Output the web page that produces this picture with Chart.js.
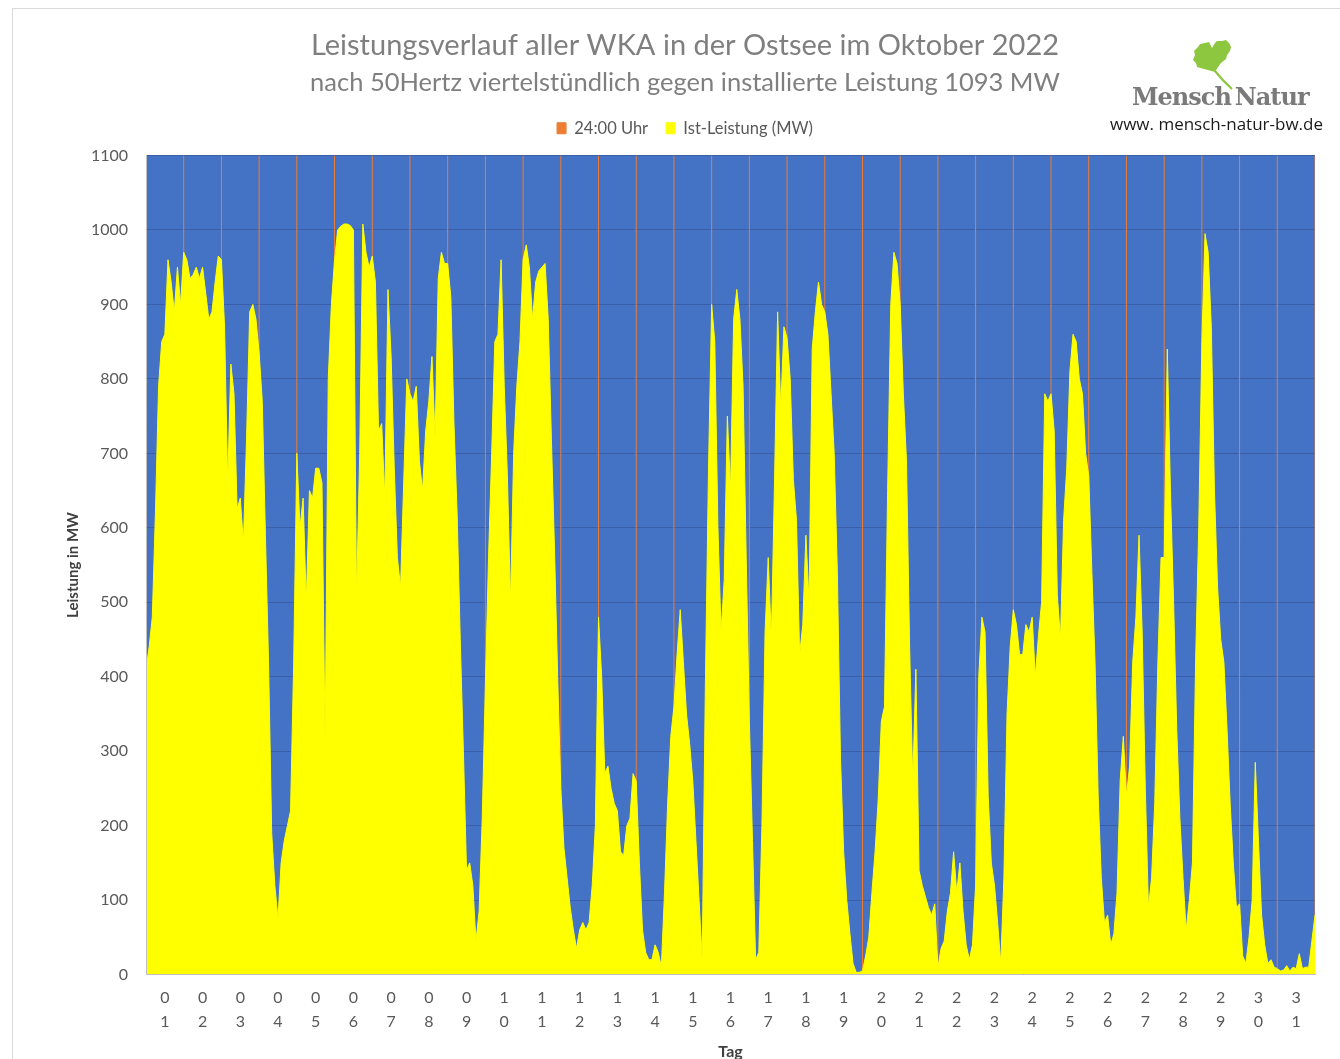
<!DOCTYPE html>
<html lang="de">
<head>
<meta charset="utf-8">
<title>Leistungsverlauf aller WKA in der Ostsee im Oktober 2022</title>
<script src="https://cdn.jsdelivr.net/npm/chart.js@4.4.0/dist/chart.umd.min.js"></script>
<style>
    html, body { margin: 0; padding: 0; background: #fff; }
    #rahmen { position: absolute; left: 12px; top: 8px; width: 1340px; height: 1060px;
              border-left: 1px solid #d9d9d9; border-top: 1px solid #d9d9d9; }
    #diagramm { position: absolute; left: 0; top: 0; }
    #blatt { position: absolute; left: 1190px; top: 36px; }
    #marke { position: absolute; left: 1132px; top: 83px; font-family: "DejaVu Serif", serif;
             font-size: 24px; font-weight: bold; letter-spacing: -1px; line-height: 27px;
             color: #7a7a7a; white-space: nowrap; }
    #marke span { margin-left: 4px; }
    #web { position: absolute; left: 1110px; top: 114px; font-family: "Open Sans", sans-serif;
           font-size: 17px; line-height: 20px; color: #1a1a1a; white-space: nowrap; }
</style>
</head>
<body>
<div id="rahmen"></div>
<canvas id="diagramm" width="1340" height="1059"></canvas>
<svg id="blatt" width="60" height="64" viewBox="0 0 60 64">
    <path d="M42 53 Q32 44 25 35" stroke="#8dc63f" stroke-width="2.2" fill="none"/>
    <path d="M25 36 L7 31 L6 27 L3 24 L5 19 L4 15 L8 11 L10 8 L15 7 L19 6 L22 12
             L25 7 L27 5 L32 5 L36 4 L39 7 L41 11 L40 15 L37 19 L36 23 L31 27 L28 31 Z" fill="#8dc63f"/>
</svg>
<div id="marke">Mensch<span>Natur</span></div>
<div id="web">www. mensch-natur-bw.de</div>
<script>
// Tage im Oktober 2022
const tage = ['01', '02', '03', '04', '05', '06', '07', '08', '09', '10', '11', '12', '13', '14', '15', '16',
              '17', '18', '19', '20', '21', '22', '23', '24', '25', '26', '27', '28', '29', '30', '31'];

const leistung = [
    410, 440, 480, 620, 790, 850, 860, 960, 930, 890, 950, 900,      // 01
    970, 960, 935, 940, 950, 935, 950, 915, 880, 890, 930, 965,      // 02
    960, 870, 660, 820, 780, 625, 640, 580, 720, 890, 900, 880,      // 03
    835, 770, 590, 420, 190, 120, 75, 150, 180, 200, 220, 420,       // 04
    700, 600, 640, 500, 650, 640, 680, 680, 660, 310, 800, 900,      // 05
    960, 1000, 1005, 1008, 1008, 1006, 1000, 505, 700, 1008, 970, 950, // 06
    965, 930, 730, 740, 640, 920, 830, 680, 560, 520, 660, 800,      // 07
    780, 770, 790, 690, 650, 730, 770, 830, 720, 935, 970, 955,      // 08
    955, 910, 740, 620, 450, 300, 140, 150, 120, 45, 85, 210,        // 09
    390, 560, 700, 850, 860, 960, 790, 670, 500, 700, 790, 850,      // 10
    960, 980, 950, 880, 930, 945, 950, 955, 880, 720, 570, 400,      // 11
    250, 170, 130, 90, 60, 35, 60, 70, 60, 70, 120, 200,             // 12
    480, 400, 270, 280, 250, 230, 220, 165, 160, 200, 210, 270,      // 13
    260, 150, 60, 30, 20, 20, 40, 30, 10, 110, 230, 320,             // 14
    360, 430, 490, 420, 350, 310, 260, 180, 100, 20, 390, 680,       // 15
    900, 850, 600, 460, 530, 750, 650, 880, 920, 880, 790, 560,      // 16
    340, 180, 20, 30, 200, 460, 560, 450, 660, 890, 760, 870,        // 17
    855, 800, 665, 610, 430, 470, 590, 500, 840, 890, 930, 900,      // 18
    890, 860, 780, 700, 540, 290, 165, 100, 55, 15, 3, 3,            // 19
    5, 25, 50, 110, 165, 235, 340, 360, 650, 900, 970, 955,          // 20
    900, 780, 690, 440, 260, 410, 140, 120, 105, 90, 80, 95,         // 21
    10, 35, 45, 85, 110, 165, 110, 150, 85, 40, 20, 40,              // 22
    120, 400, 480, 460, 240, 150, 120, 70, 15, 130, 350, 440,        // 23
    490, 470, 430, 430, 470, 460, 480, 400, 455, 500, 780, 770,      // 24
    780, 730, 510, 450, 610, 680, 810, 860, 850, 800, 780, 700,      // 25
    670, 540, 420, 240, 130, 70, 80, 40, 55, 110, 260, 320,          // 26
    240, 280, 420, 480, 590, 460, 250, 90, 130, 230, 420, 560,       // 27
    560, 840, 650, 500, 330, 210, 130, 60, 100, 150, 420, 600,       // 28
    850, 995, 970, 870, 650, 520, 450, 420, 330, 230, 150, 90,       // 29
    95, 25, 15, 50, 100, 285, 180, 80, 40, 15, 20, 10,               // 30
    8, 5, 6, 12, 5, 10, 8, 28, 8, 10, 10, 45,                        // 31
    80
];
const werteProTag = 12;

// 24:00-Uhr-Markierungen (Tagesende) und Höhe der Markierung
const tagesEnden = tage.map((t, i) => i + 1);
const markierungHoehe = 1100;

Chart.defaults.font.family = 'Lato, "Open Sans", sans-serif';
Chart.defaults.color = '#595959';

const plotHintergrund = {
    id: 'plotHintergrund',
    beforeDraw(chart) {
        const { ctx, chartArea: a } = chart;
        ctx.save();
        ctx.fillStyle = '#4472C4';
        ctx.fillRect(a.left, a.top, a.right - a.left, a.bottom - a.top);
        ctx.restore();
    }
};

// etwas Luft unter der Legende
const legendeAbstand = {
    id: 'legendeAbstand',
    beforeLayout(chart) {
        const lg = chart.legend;
        if (lg && !lg._abstand) {
            const fit = lg.fit;
            lg.fit = function () { fit.call(this); this.height += 9; };
            lg._abstand = true;
        }
    }
};

const ctx = document.getElementById('diagramm').getContext('2d');
new Chart(ctx, {
    type: 'line',
    data: {
        datasets: [
            {
                label: '24:00 Uhr',
                data: tagesEnden.flatMap(d => [{ x: d, y: 0 }, { x: d, y: markierungHoehe }, { x: d, y: null }]),
                borderColor: '#ED7D31',
                backgroundColor: '#ED7D31',
                borderWidth: 1,
                pointRadius: 0,
                spanGaps: false,
                fill: false,
                order: 1
            },
            {
                label: 'Ist-Leistung (MW)',
                data: leistung.map((v, i) => ({ x: i / werteProTag, y: v })),
                borderColor: '#FFFF00',
                backgroundColor: '#FFFF00',
                borderWidth: 1,
                pointRadius: 0,
                tension: 0,
                fill: 'origin',
                order: 0
            }
        ]
    },
    options: {
        responsive: false,
        animation: false,
        layout: { padding: { left: 55, right: 25, top: 0, bottom: 0 } },
        plugins: {
            title: {
                display: true,
                text: 'Leistungsverlauf aller WKA in der Ostsee im Oktober 2022',
                color: '#7f7f7f',
                font: { size: 29, weight: 'normal' },
                padding: { top: 28.6, bottom: 2 }
            },
            subtitle: {
                display: true,
                text: 'nach 50Hertz viertelstündlich gegen installierte Leistung 1093 MW',
                color: '#7f7f7f',
                font: { size: 25.5 },
                padding: { top: 2.3, bottom: 3.7 }
            },
            legend: {
                display: true,
                labels: {
                    boxWidth: 9,
                    boxHeight: 11,
                    padding: 18,
                    color: '#595959',
                    font: { size: 16.5 },
                    sort: (a, b) => a.datasetIndex - b.datasetIndex
                }
            },
            tooltip: { enabled: false }
        },
        scales: {
            x: {
                type: 'linear',
                min: 0,
                max: tage.length,
                afterBuildTicks: s => { s.ticks = tage.map((t, i) => ({ value: i + 0.5 })); },
                ticks: {
                    autoSkip: false,
                    maxRotation: 0,
                    padding: 12,
                    color: '#595959',
                    font: { size: 16, lineHeight: 1.45 },
                    callback: (v, i) => tage[i].split('')
                },
                grid: { display: false, drawTicks: false },
                border: { color: '#bfbfbf', z: 1 },
                title: {
                    display: true,
                    text: 'Tag',
                    color: '#404040',
                    font: { size: 16, weight: 'bold', lineHeight: 0.875 },
                    padding: { top: 0, bottom: 0 }
                }
            },
            y: {
                min: 0,
                max: 1100,
                afterFit: s => { s.width = 91; },
                ticks: { stepSize: 100, padding: 18, color: '#595959', font: { size: 16 }, callback: v => String(v) },
                grid: { color: '#3a5fa8', drawTicks: false },
                border: { color: '#bfbfbf', z: 1 },
                title: {
                    display: true,
                    text: 'Leistung in MW',
                    color: '#404040',
                    font: { size: 15, weight: 'bold' },
                    padding: { top: 9, bottom: 0 }
                }
            }
        }
    },
    plugins: [plotHintergrund, legendeAbstand]
});
</script>
</body>
</html>
